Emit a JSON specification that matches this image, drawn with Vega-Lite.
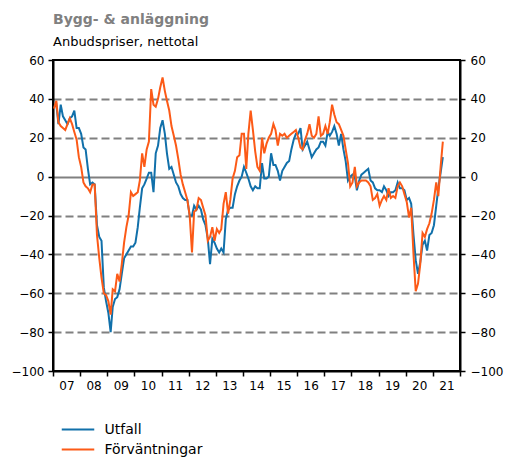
{
"$schema": "https://vega.github.io/schema/vega-lite/v6.json",
"width": 407, "height": 311,
"autosize": "none",
"padding": {"left": 53, "top": 60, "right": 46, "bottom": 86},
"title": {"text": "Bygg- & anläggning", "subtitle": "Anbudspriser, nettotal", "anchor": "start", "frame": "group", "font": "DejaVu Sans", "fontSize": 14, "fontWeight": "bold", "color": "#808080", "subtitleFont": "DejaVu Sans", "subtitleFontSize": 13, "subtitleColor": "black", "subtitlePadding": 9, "offset": 5},
"config": {"font": "DejaVu Sans", "view": {"stroke": "black", "strokeWidth": 2}, "background": "white"},
"data": {"values": [
{"d":"2007-01-15","Utfall":36,"Förväntningar":35},
{"d":"2007-02-15","Utfall":37,"Förväntningar":39},
{"d":"2007-03-15","Utfall":27,"Förväntningar":28},
{"d":"2007-04-15","Utfall":37,"Förväntningar":26},
{"d":"2007-05-15","Utfall":31,"Förväntningar":25},
{"d":"2007-06-15","Utfall":29,"Förväntningar":24},
{"d":"2007-07-15","Utfall":27,"Förväntningar":27},
{"d":"2007-08-15","Utfall":30,"Förväntningar":30},
{"d":"2007-09-15","Utfall":31,"Förväntningar":27},
{"d":"2007-10-15","Utfall":34,"Förväntningar":23},
{"d":"2007-11-15","Utfall":25,"Förväntningar":19},
{"d":"2007-12-15","Utfall":25,"Förväntningar":10},
{"d":"2008-01-15","Utfall":22,"Förväntningar":5},
{"d":"2008-02-15","Utfall":15,"Förväntningar":-3},
{"d":"2008-03-15","Utfall":14,"Förväntningar":-5},
{"d":"2008-04-15","Utfall":4,"Förväntningar":-6},
{"d":"2008-05-15","Utfall":-4,"Förväntningar":-8},
{"d":"2008-06-15","Utfall":-3,"Förväntningar":-4},
{"d":"2008-07-15","Utfall":-4,"Förväntningar":-4},
{"d":"2008-08-15","Utfall":-25,"Förväntningar":-30},
{"d":"2008-09-15","Utfall":-31,"Förväntningar":-42},
{"d":"2008-10-15","Utfall":-33,"Förväntningar":-52},
{"d":"2008-11-15","Utfall":-57,"Förväntningar":-60},
{"d":"2008-12-15","Utfall":-64,"Förväntningar":-61},
{"d":"2009-01-15","Utfall":-70,"Förväntningar":-64},
{"d":"2009-02-15","Utfall":-80,"Förväntningar":-71},
{"d":"2009-03-15","Utfall":-67,"Förväntningar":-58},
{"d":"2009-04-15","Utfall":-63,"Förväntningar":-59},
{"d":"2009-05-15","Utfall":-62,"Förväntningar":-50},
{"d":"2009-06-15","Utfall":-58,"Förväntningar":-54},
{"d":"2009-07-15","Utfall":-50,"Förväntningar":-45},
{"d":"2009-08-15","Utfall":-42,"Förväntningar":-34},
{"d":"2009-09-15","Utfall":-40,"Förväntningar":-26},
{"d":"2009-10-15","Utfall":-38,"Förväntningar":-20},
{"d":"2009-11-15","Utfall":-36,"Förväntningar":-8},
{"d":"2009-12-15","Utfall":-36,"Förväntningar":-10},
{"d":"2010-01-15","Utfall":-34,"Förväntningar":-9},
{"d":"2010-02-15","Utfall":-26,"Förväntningar":-8},
{"d":"2010-03-15","Utfall":-16,"Förväntningar":-2},
{"d":"2010-04-15","Utfall":-6,"Förväntningar":12},
{"d":"2010-05-15","Utfall":-4,"Förväntningar":5},
{"d":"2010-06-15","Utfall":-1,"Förväntningar":14},
{"d":"2010-07-15","Utfall":2,"Förväntningar":18},
{"d":"2010-08-15","Utfall":2,"Förväntningar":45},
{"d":"2010-09-15","Utfall":-8,"Förväntningar":37},
{"d":"2010-10-15","Utfall":12,"Förväntningar":36},
{"d":"2010-11-15","Utfall":16,"Förväntningar":40},
{"d":"2010-12-15","Utfall":25,"Förväntningar":46},
{"d":"2011-01-15","Utfall":29,"Förväntningar":51},
{"d":"2011-02-15","Utfall":22,"Förväntningar":44},
{"d":"2011-03-15","Utfall":12,"Förväntningar":39},
{"d":"2011-04-15","Utfall":4,"Förväntningar":34},
{"d":"2011-05-15","Utfall":5,"Förväntningar":26},
{"d":"2011-06-15","Utfall":1,"Förväntningar":21},
{"d":"2011-07-15","Utfall":-3,"Förväntningar":16},
{"d":"2011-08-15","Utfall":-5,"Förväntningar":9},
{"d":"2011-09-15","Utfall":-9,"Förväntningar":1},
{"d":"2011-10-15","Utfall":-11,"Förväntningar":-4},
{"d":"2011-11-15","Utfall":-12,"Förväntningar":-8},
{"d":"2011-12-15","Utfall":-12,"Förväntningar":-12},
{"d":"2012-01-15","Utfall":-20,"Förväntningar":-20},
{"d":"2012-02-15","Utfall":-20,"Förväntningar":-39},
{"d":"2012-03-15","Utfall":-15,"Förväntningar":-18},
{"d":"2012-04-15","Utfall":-17,"Förväntningar":-17},
{"d":"2012-05-15","Utfall":-15,"Förväntningar":-11},
{"d":"2012-06-15","Utfall":-17,"Förväntningar":-12},
{"d":"2012-07-15","Utfall":-22,"Förväntningar":-16},
{"d":"2012-08-15","Utfall":-25,"Förväntningar":-20},
{"d":"2012-09-15","Utfall":-32,"Förväntningar":-33},
{"d":"2012-10-15","Utfall":-45,"Förväntningar":-31},
{"d":"2012-11-15","Utfall":-32,"Förväntningar":-26},
{"d":"2012-12-15","Utfall":-34,"Förväntningar":-33},
{"d":"2013-01-15","Utfall":-37,"Förväntningar":-27},
{"d":"2013-02-15","Utfall":-39,"Förväntningar":-29},
{"d":"2013-03-15","Utfall":-37,"Förväntningar":-27},
{"d":"2013-04-15","Utfall":-39,"Förväntningar":-14},
{"d":"2013-05-15","Utfall":-22,"Förväntningar":-8},
{"d":"2013-06-15","Utfall":-17,"Förväntningar":-19},
{"d":"2013-07-15","Utfall":-16,"Förväntningar":-12},
{"d":"2013-08-15","Utfall":-16,"Förväntningar":-1},
{"d":"2013-09-15","Utfall":-9,"Förväntningar":3},
{"d":"2013-10-15","Utfall":-5,"Förväntningar":10},
{"d":"2013-11-15","Utfall":-2,"Förväntningar":11},
{"d":"2013-12-15","Utfall":0,"Förväntningar":22},
{"d":"2014-01-15","Utfall":5,"Förväntningar":22},
{"d":"2014-02-15","Utfall":2,"Förväntningar":4},
{"d":"2014-03-15","Utfall":-1,"Förväntningar":22},
{"d":"2014-04-15","Utfall":-5,"Förväntningar":34},
{"d":"2014-05-15","Utfall":-7,"Förväntningar":24},
{"d":"2014-06-15","Utfall":-5,"Förväntningar":13},
{"d":"2014-07-15","Utfall":-6,"Förväntningar":5},
{"d":"2014-08-15","Utfall":-6,"Förväntningar":3},
{"d":"2014-09-15","Utfall":7,"Förväntningar":20},
{"d":"2014-10-15","Utfall":-1,"Förväntningar":12},
{"d":"2014-11-15","Utfall":-1,"Förväntningar":17},
{"d":"2014-12-15","Utfall":0,"Förväntningar":20},
{"d":"2015-01-15","Utfall":12,"Förväntningar":22},
{"d":"2015-02-15","Utfall":6,"Förväntningar":27},
{"d":"2015-03-15","Utfall":6,"Förväntningar":24},
{"d":"2015-04-15","Utfall":3,"Förväntningar":16},
{"d":"2015-05-15","Utfall":-2,"Förväntningar":22},
{"d":"2015-06-15","Utfall":3,"Förväntningar":21},
{"d":"2015-07-15","Utfall":5,"Förväntningar":22},
{"d":"2015-08-15","Utfall":7,"Förväntningar":20},
{"d":"2015-09-15","Utfall":8,"Förväntningar":21},
{"d":"2015-10-15","Utfall":14,"Förväntningar":22},
{"d":"2015-11-15","Utfall":19,"Förväntningar":23},
{"d":"2015-12-15","Utfall":22,"Förväntningar":24},
{"d":"2016-01-15","Utfall":22,"Förväntningar":20},
{"d":"2016-02-15","Utfall":25,"Förväntningar":15},
{"d":"2016-03-15","Utfall":14,"Förväntningar":14},
{"d":"2016-04-15","Utfall":16,"Förväntningar":19},
{"d":"2016-05-15","Utfall":18,"Förväntningar":22},
{"d":"2016-06-15","Utfall":14,"Förväntningar":27},
{"d":"2016-07-15","Utfall":10,"Förväntningar":21},
{"d":"2016-08-15","Utfall":12,"Förväntningar":20},
{"d":"2016-09-15","Utfall":14,"Förväntningar":22},
{"d":"2016-10-15","Utfall":15,"Förväntningar":31},
{"d":"2016-11-15","Utfall":18,"Förväntningar":21},
{"d":"2016-12-15","Utfall":18,"Förväntningar":22},
{"d":"2017-01-15","Utfall":16,"Förväntningar":26},
{"d":"2017-02-15","Utfall":23,"Förväntningar":22},
{"d":"2017-03-15","Utfall":21,"Förväntningar":28},
{"d":"2017-04-15","Utfall":23,"Förväntningar":37},
{"d":"2017-05-15","Utfall":26,"Förväntningar":32},
{"d":"2017-06-15","Utfall":22,"Förväntningar":28},
{"d":"2017-07-15","Utfall":16,"Förväntningar":27},
{"d":"2017-08-15","Utfall":22,"Förväntningar":24},
{"d":"2017-09-15","Utfall":14,"Förväntningar":21},
{"d":"2017-10-15","Utfall":8,"Förväntningar":14},
{"d":"2017-11-15","Utfall":-2,"Förväntningar":7},
{"d":"2017-12-15","Utfall":0,"Förväntningar":-5},
{"d":"2018-01-15","Utfall":1,"Förväntningar":-3},
{"d":"2018-02-15","Utfall":0,"Förväntningar":5},
{"d":"2018-03-15","Utfall":-7,"Förväntningar":-5},
{"d":"2018-04-15","Utfall":-2,"Förväntningar":-3},
{"d":"2018-05-15","Utfall":1,"Förväntningar":-2},
{"d":"2018-06-15","Utfall":2,"Förväntningar":-2},
{"d":"2018-07-15","Utfall":3,"Förväntningar":-2},
{"d":"2018-08-15","Utfall":4,"Förväntningar":-3},
{"d":"2018-09-15","Utfall":-2,"Förväntningar":-5},
{"d":"2018-10-15","Utfall":-3,"Förväntningar":-12},
{"d":"2018-11-15","Utfall":-6,"Förväntningar":-11},
{"d":"2018-12-15","Utfall":-7,"Förväntningar":-9},
{"d":"2019-01-15","Utfall":-7,"Förväntningar":-15},
{"d":"2019-02-15","Utfall":-8,"Förväntningar":-12},
{"d":"2019-03-15","Utfall":-5,"Förväntningar":-10},
{"d":"2019-04-15","Utfall":-7,"Förväntningar":-12},
{"d":"2019-05-15","Utfall":-10,"Förväntningar":-6},
{"d":"2019-06-15","Utfall":-8,"Förväntningar":-11},
{"d":"2019-07-15","Utfall":-8,"Förväntningar":-10},
{"d":"2019-08-15","Utfall":-7,"Förväntningar":-11},
{"d":"2019-09-15","Utfall":-3,"Förväntningar":-5},
{"d":"2019-10-15","Utfall":-6,"Förväntningar":-3},
{"d":"2019-11-15","Utfall":-6,"Förväntningar":-5},
{"d":"2019-12-15","Utfall":-7,"Förväntningar":-9},
{"d":"2020-01-15","Utfall":-12,"Förväntningar":-13},
{"d":"2020-02-15","Utfall":-11,"Förväntningar":-21},
{"d":"2020-03-15","Utfall":-14,"Förväntningar":-16},
{"d":"2020-04-15","Utfall":-30,"Förväntningar":-40},
{"d":"2020-05-15","Utfall":-43,"Förväntningar":-59},
{"d":"2020-06-15","Utfall":-50,"Förväntningar":-55},
{"d":"2020-07-15","Utfall":-44,"Förväntningar":-45},
{"d":"2020-08-15","Utfall":-35,"Förväntningar":-29},
{"d":"2020-09-15","Utfall":-33,"Förväntningar":-31},
{"d":"2020-10-15","Utfall":-38,"Förväntningar":-27},
{"d":"2020-11-15","Utfall":-30,"Förväntningar":-24},
{"d":"2020-12-15","Utfall":-29,"Förväntningar":-19},
{"d":"2021-01-15","Utfall":-25,"Förväntningar":-12},
{"d":"2021-02-15","Utfall":-15,"Förväntningar":-3},
{"d":"2021-03-15","Utfall":-6,"Förväntningar":-10},
{"d":"2021-04-15","Utfall":2,"Förväntningar":5},
{"d":"2021-05-15","Utfall":10,"Förväntningar":18}
]},
"transform": [{"fold": ["Utfall", "Förväntningar"], "as": ["serie", "value"]}],
"encoding": {
  "x": {"field": "d", "type": "temporal",
    "scale": {"type": "utc", "domain": [{"year": 2007, "month": 1, "date": 1, "utc": true}, {"year": 2022, "month": 1, "date": 1, "utc": true}]},
    "axis": {"title": null, "grid": false, "tickCount": {"interval": "year", "step": 1},
      "labelExpr": "utcFormat(datum.value, '%Y') === '2022' ? '' : utcFormat(datum.value, '%y')",
      "labelOffset": 13.5, "labelFlush": false, "labelOverlap": false, "labelBound": false,
      "labelFontSize": 12, "labelColor": "black", "labelPadding": 4,
      "domainColor": "black", "domainWidth": 2, "tickColor": "black", "tickWidth": 1.5, "tickSize": 5}}
},
"layer": [
  {"mark": {"type": "point", "opacity": 0},
   "encoding": {"y": {"field": "value", "type": "quantitative",
     "scale": {"domain": [-100, 60], "nice": false, "zero": false},
     "axis": {"orient": "left", "title": null, "values": [-100, -80, -60, -40, -20, 0, 20, 40, 60],
       "grid": true, "gridColor": "#808080", "gridWidth": 2,
       "gridDash": {"condition": {"test": "datum.value === 0", "value": []}, "value": [8, 4]},
       "gridOpacity": {"condition": {"test": "datum.value >= 60 || datum.value <= -100", "value": 0}, "value": 1},
       "labelFontSize": 12, "labelColor": "black", "labelPadding": 4,
       "domainColor": "black", "domainWidth": 2, "tickColor": "black", "tickWidth": 1.5, "tickSize": 5}}}},
  {"mark": {"type": "line", "strokeWidth": 2},
   "encoding": {"y": {"field": "value", "type": "quantitative",
     "scale": {"domain": [-100, 60], "nice": false, "zero": false},
     "axis": {"orient": "right", "title": null, "values": [-100, -80, -60, -40, -20, 0, 20, 40, 60], "grid": false,
       "labelFontSize": 12, "labelColor": "black", "labelPadding": 5,
       "domainColor": "black", "domainWidth": 2, "tickColor": "black", "tickWidth": 1.5, "tickSize": 5}},
     "color": {"field": "serie", "type": "nominal",
       "scale": {"domain": ["Utfall", "Förväntningar"], "range": ["#1170aa", "#fc5a17"]},
       "legend": {"title": null, "orient": "none", "legendX": 17.5, "legendY": 362, "direction": "vertical",
         "symbolType": "M-2.5,0H2.5", "symbolSize": 169, "symbolStrokeWidth": 2,
         "labelFontSize": 14, "labelColor": "black", "labelOffset": 19, "rowPadding": 5}}}}
],
"resolve": {"axis": {"y": "independent"}}
}
